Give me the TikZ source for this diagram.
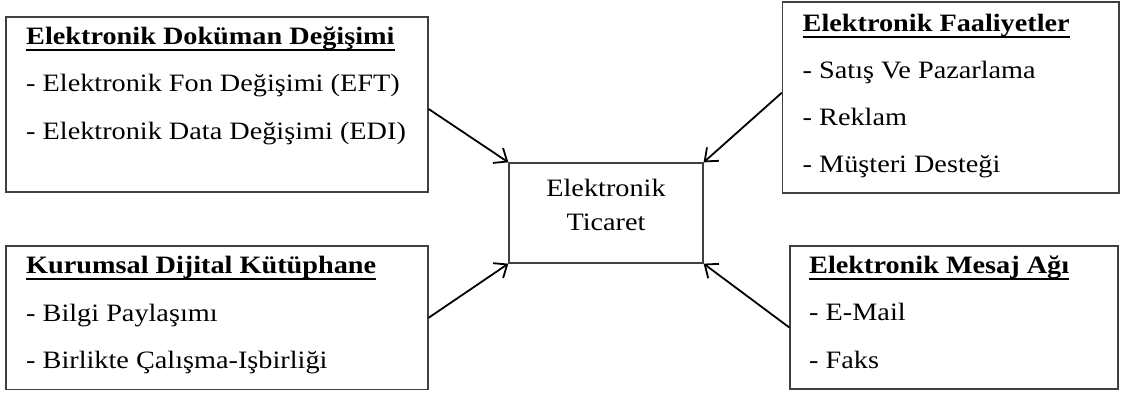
\documentclass[tikz,border=0pt]{standalone}
\usepackage{fontspec}
\setmainfont[FakeStretch=1.13]{Liberation Serif}
\usetikzlibrary{arrows.meta}

\newsavebox{\baslikkutu}
\newcommand{\baslik}[1]{\sbox{\baslikkutu}{\textbf{#1}}\rlap{\rule[-6.5pt]{\wd\baslikkutu}{1.8pt}}\usebox{\baslikkutu}}

\tikzset{
kutu/.style={draw=black!75, line width=1.3pt, inner sep=0pt},
liste/.style={align=left, anchor=base west, inner sep=0pt, font=\fontsize{25}{47.5}\selectfont},
ok/.style={-{Straight Barb[length=11pt,width=18pt]}, line width=1.8pt}
}

\begin{document}
\begin{tikzpicture}[x=1pt,y=1pt]
\useasboundingbox (0,0) rectangle (1124,-394);
\node[kutu, minimum width=422pt, minimum height=175pt] (doc) at (217,-104.5) {};
\node[kutu, minimum width=336.5pt, minimum height=191pt] (faal) at (950.75,-97.5) {};
\node[kutu, minimum width=422pt, minimum height=143.5pt] (kutup) at (217,-317.75) {};
\node[kutu, minimum width=328pt, minimum height=143pt] (mesaj) at (954,-317.5) {};
\node[kutu, minimum width=194pt, minimum height=100pt] (eticaret) at (606,-213) {};
\node[align=center, font=\fontsize{25}{34}\selectfont] (eticaretyazi) at ([yshift=7.8pt]eticaret.center) {Elektronik\\Ticaret};
\node[liste] (docyazi) at (26,-139.3) {\baslik{Elektronik Doküman Değişimi}\\- Elektronik Fon Değişimi (EFT)\\- Elektronik Data Değişimi (EDI)};
\node[liste, font=\fontsize{25}{47}\selectfont] (faalyazi) at (802.5,-172.7) {\baslik{Elektronik Faaliyetler}\\- Satış Ve Pazarlama\\- Reklam\\- Müşteri Desteği};
\node[liste] (kutupyazi) at (26,-368.5) {\baslik{Kurumsal Dijital Kütüphane}\\- Bilgi Paylaşımı\\- Birlikte Çalışma-Işbirliği};
\node[liste] (mesajyazi) at (809,-368.3) {\baslik{Elektronik Mesaj Ağı}\\- E-Mail\\- Faks};
\draw[ok] ([yshift=-4.5pt]doc.east) -- (eticaret.north west);
\draw[ok] ([yshift=4.8pt]faal.west) -- (eticaret.north east);
\draw[ok] (kutup.east) -- (eticaret.south west);
\draw[ok] ([yshift=-10pt]mesaj.west) -- (eticaret.south east);
\end{tikzpicture}
\end{document}
